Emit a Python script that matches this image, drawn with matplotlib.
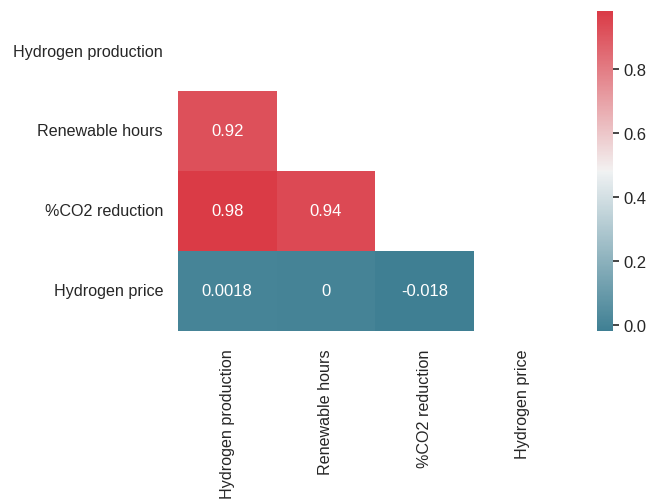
import numpy as np
import matplotlib.pyplot as plt
import seaborn as sns

labels = ["Hydrogen production", "Renewable hours", "%CO2 reduction", "Hydrogen price"]

# correlation matrix (row-wise)
row_h2_prod = [1.0, 0.92, 0.98, 0.0018]
row_renew = [0.92, 1.0, 0.94, 0.0]
row_co2 = [0.98, 0.94, 1.0, -0.018]
row_price = [0.0018, 0.0, -0.018, 1.0]


def main():
    sns.set_theme(style="white")
    plt.rcParams["font.family"] = ["Liberation Sans", "DejaVu Sans"]

    corr = np.array([row_h2_prod, row_renew, row_co2, row_price])
    mask = np.triu(np.ones_like(corr, dtype=bool))

    fig = plt.figure(figsize=(6.5, 5.02), dpi=100)
    ax = fig.add_axes([178 / 650, 1 - 332 / 502, 394 / 650, 320 / 502])
    cax = fig.add_axes([597 / 650, 1 - 332 / 502, 16 / 650, 320 / 502])

    cmap = sns.diverging_palette(220, 10, as_cmap=True)
    sns.heatmap(corr, mask=mask, cmap=cmap, annot=True, ax=ax, cbar_ax=cax,
                xticklabels=labels, yticklabels=labels,
                annot_kws={"size": 12})

    ax.tick_params(axis="y", labelsize=11.6, length=0, pad=10.8, colors="#262626")
    ax.tick_params(axis="x", labelsize=11.6, length=0, pad=12.5, colors="#262626")
    plt.setp(ax.get_xticklabels(), rotation=90)
    plt.setp(ax.get_yticklabels(), rotation=0)
    cax.tick_params(labelsize=12, length=4.5, width=1.2, pad=3, colors="#262626")

    fig.savefig("out.png", dpi=100)
    plt.close(fig)


if __name__ == "__main__":
    main()
